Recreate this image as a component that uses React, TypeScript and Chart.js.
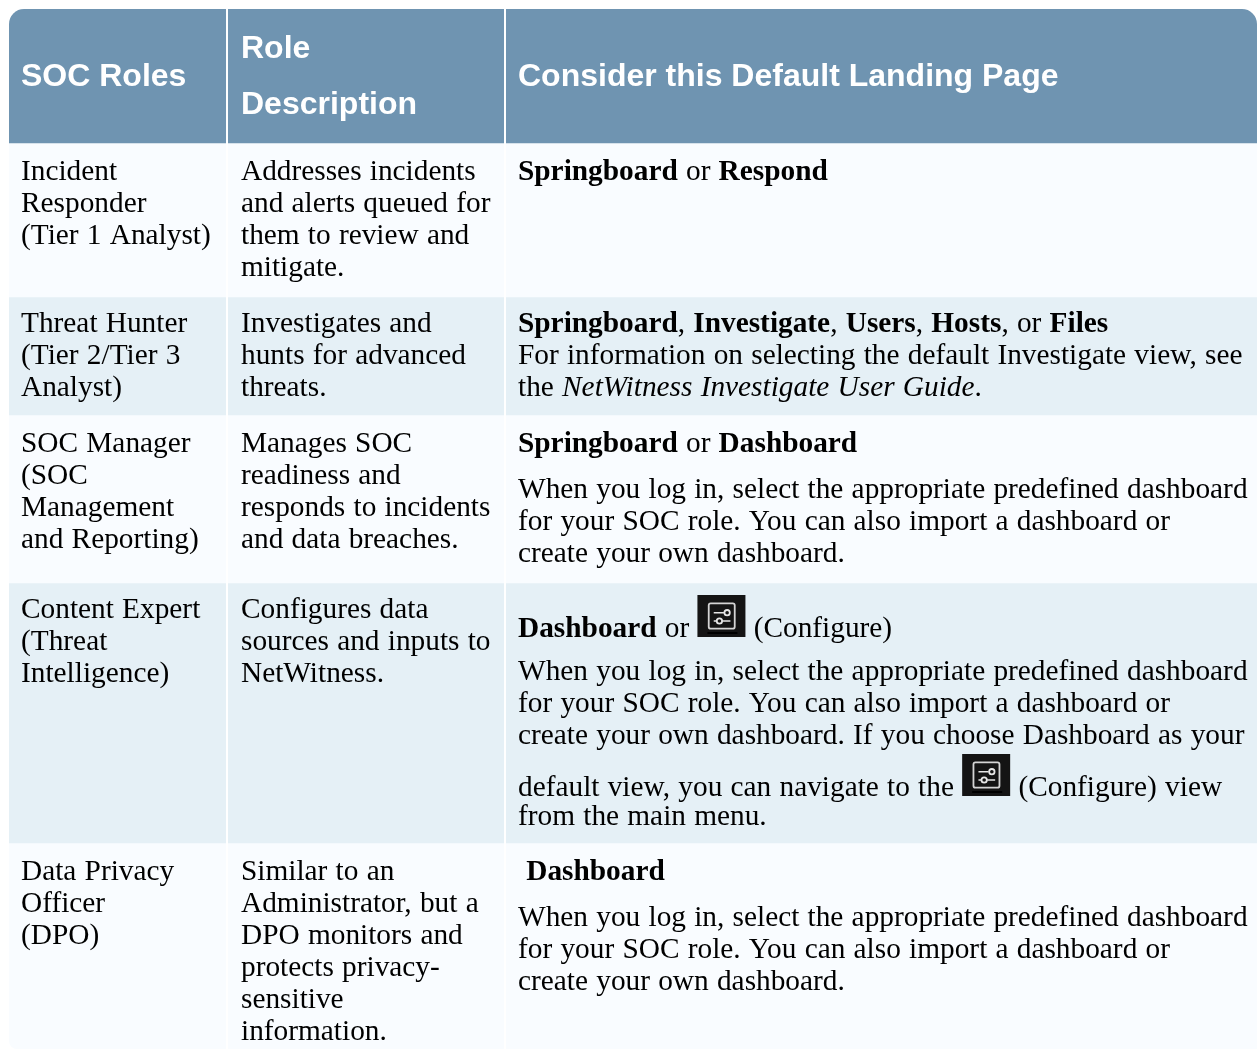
import React, { useEffect, useRef } from "react";
import { Chart, registerables } from "chart.js";

Chart.register(...registerables);

const columnHeaders = [["SOC Roles"], ["Role", "Description"], ["Consider this Default Landing Page"]];
const rowNames = ["Header", "Incident Responder", "Threat Hunter", "SOC Manager", "Content Expert", "Data Privacy Officer"];
const rowHeights = [134, 154, 118, 168, 260, 206];
const columnEdges = [218, 496];

const socRoles = [
  ["Incident", "Responder", "(Tier 1 Analyst)"],
  ["Threat Hunter", "(Tier 2/Tier 3", "Analyst)"],
  ["SOC Manager", "(SOC", "Management", "and Reporting)"],
  ["Content Expert", "(Threat", "Intelligence)"],
  ["Data Privacy", "Officer", "(DPO)"],
];

const roleDescriptions = [
  ["Addresses incidents", "and alerts queued for", "them to review and", "mitigate."],
  ["Investigates and", "hunts for advanced", "threats."],
  ["Manages SOC", "readiness and", "responds to incidents", "and data breaches."],
  ["Configures data", "sources and inputs to", "NetWitness."],
  ["Similar to an", "Administrator, but a", "DPO monitors and", "protects privacy-", "sensitive", "information."],
];

// Markup: **bold**, __italic__, [icon]
const landingPages = [
  ["**Springboard** or **Respond**"],
  [
    "**Springboard**, **Investigate**, **Users**, **Hosts**, or **Files**",
    "For information on selecting the default Investigate view, see",
    "the __NetWitness Investigate User Guide__.",
  ],
  [
    "**Springboard** or **Dashboard**",
    "When you log in, select the appropriate predefined dashboard",
    "for your SOC role. You can also import a dashboard or",
    "create your own dashboard.",
  ],
  [
    "**Dashboard** or [icon] (Configure)",
    "When you log in, select the appropriate predefined dashboard",
    "for your SOC role. You can also import a dashboard or",
    "create your own dashboard. If you choose Dashboard as your",
    "default view, you can navigate to the [icon] (Configure) view",
    "from the main menu.",
  ],
  [
    " **Dashboard**",
    "When you log in, select the appropriate predefined dashboard",
    "for your SOC role. You can also import a dashboard or",
    "create your own dashboard.",
  ],
];

const landingOffsets = [
  [37],
  [35, 67, 99],
  [37, 83, 115, 147],
  [54, 97, 129, 161, 213, 242],
  [37, 83, 115, 147],
];
const firstOffsets = [37, 35, 37, 35, 37];

const HEADER_COLOR = "#6f94b1";
const ROW_COLORS = ["#f9fcff", "#e5f0f6"];
const BODY_SIZE = 29.33;
const HEAD_SIZE = 32;
const WORD_GAP = "0.9px";
const SERIF = '"Liberation Serif"';
const SANS = '"Liberation Sans"';
const COLUMN_TEXT_X = [12, 232, 509];
const HEADER_BASELINES = [[77], [49, 105], [77]];
const LINE_STEP = 32;
const ICON_W = 48;
const ICON_H = 42;

type Run = { kind: "text" | "bold" | "italic" | "icon"; text: string };

function parseLine(line: string): Run[] {
  const runs: Run[] = [];
  const re = /\*\*(.+?)\*\*|__(.+?)__|\[icon\]/g;
  let last = 0;
  let m: RegExpExecArray | null;
  while ((m = re.exec(line))) {
    if (m.index > last) runs.push({ kind: "text", text: line.slice(last, m.index) });
    if (m[1]) runs.push({ kind: "bold", text: m[1] });
    else if (m[2]) runs.push({ kind: "italic", text: m[2] });
    else runs.push({ kind: "icon", text: "" });
    last = m.index + m[0].length;
  }
  if (last < line.length) runs.push({ kind: "text", text: line.slice(last) });
  return runs;
}

function drawIcon(ctx: CanvasRenderingContext2D, x: number, baseline: number) {
  const top = baseline - ICON_H;
  ctx.save();
  ctx.fillStyle = "#141414";
  ctx.fillRect(x, top, ICON_W, ICON_H);
  ctx.fillStyle = "#000000";
  ctx.fillRect(x + 10, top + 37, 30, 2);
  ctx.strokeStyle = "#d4d4d4";
  ctx.lineWidth = 1.8;
  ctx.beginPath();
  ctx.roundRect(x + 11.3, top + 8.3, 26, 25.4, 2);
  ctx.stroke();
  ctx.strokeStyle = "#e6e6e6";
  ctx.lineWidth = 1.6;
  ctx.beginPath();
  ctx.moveTo(x + 16.3, top + 17.7);
  ctx.lineTo(x + 26.5, top + 17.7);
  ctx.moveTo(x + 16.3, top + 26);
  ctx.lineTo(x + 19, top + 26);
  ctx.moveTo(x + 25, top + 26);
  ctx.lineTo(x + 33, top + 26);
  ctx.stroke();
  ctx.lineWidth = 1.8;
  ctx.beginPath();
  ctx.arc(x + 29.7, top + 17.7, 2.7, 0, Math.PI * 2);
  ctx.stroke();
  ctx.beginPath();
  ctx.arc(x + 22, top + 26, 2.7, 0, Math.PI * 2);
  ctx.stroke();
  ctx.restore();
}

function drawRuns(ctx: CanvasRenderingContext2D, line: string, x: number, y: number) {
  let cursor = x;
  for (const run of parseLine(line)) {
    if (run.kind === "icon") {
      drawIcon(ctx, cursor, y);
      cursor += ICON_W;
      continue;
    }
    const style = run.kind === "bold" ? "bold " : run.kind === "italic" ? "italic " : "";
    ctx.font = `${style}${BODY_SIZE}px ${SERIF}`;
    ctx.fillText(run.text, cursor, y);
    cursor += ctx.measureText(run.text).width;
  }
}

const clipPlugin = {
  id: "tableClip",
  beforeDatasetsDraw(chart: any) {
    const { ctx, chartArea: a } = chart;
    ctx.save();
    ctx.beginPath();
    ctx.roundRect(a.left, a.top, a.right - a.left + 20, a.bottom - a.top, [15, 15, 8, 8]);
    ctx.clip();
  },
  afterDatasetsDraw(chart: any) {
    chart.ctx.restore();
  },
};

const corner = {
  id: "rightCorner",
  afterDatasetsDraw(chart: any) {
    // Rounds the top-right corner at the canvas edge.
    const { ctx, chartArea: a } = chart;
    const r = 15;
    ctx.save();
    ctx.fillStyle = "#ffffff";
    ctx.beginPath();
    ctx.moveTo(a.right, a.top);
    ctx.lineTo(a.right - r, a.top);
    ctx.arcTo(a.right, a.top, a.right, a.top + r, r);
    ctx.closePath();
    ctx.fill();
    ctx.restore();
  },
};

const textPlugin = {
  id: "tableText",
  afterDraw(chart: any) {
    const { ctx } = chart;
    const px = (v: number) => chart.scales.xCol.getPixelForValue(v);
    const py = (v: number) => chart.scales.y.getPixelForValue(v);
    ctx.save();
    ctx.textBaseline = "alphabetic";
    ctx.textAlign = "left";
    ctx.fillStyle = "#ffffff";
    ctx.font = `bold ${HEAD_SIZE}px ${SANS}`;
    columnHeaders.forEach((lines, c) =>
      lines.forEach((t, i) => ctx.fillText(t, px(COLUMN_TEXT_X[c]), py(HEADER_BASELINES[c][i])))
    );
    ctx.fillStyle = "#000000";
    ctx.wordSpacing = WORD_GAP;
    let top = rowHeights[0];
    socRoles.forEach((_, r) => {
      [socRoles[r], roleDescriptions[r]].forEach((lines, c) => {
        ctx.font = `${BODY_SIZE}px ${SERIF}`;
        lines.forEach((t, i) =>
          ctx.fillText(t, px(COLUMN_TEXT_X[c]), py(top + firstOffsets[r] + i * LINE_STEP))
        );
      });
      landingPages[r].forEach((line, i) =>
        drawRuns(ctx, line, px(COLUMN_TEXT_X[2]), py(top + landingOffsets[r][i]))
      );
      top += rowHeights[r + 1];
    });
    ctx.wordSpacing = "0px";
    ctx.restore();
  },
};

export default function App() {
  const ref = useRef<HTMLCanvasElement>(null);
  useEffect(() => {
    const total = rowHeights.reduce((s, v) => s + v, 0);
    const chart = new Chart(ref.current!, {
      type: "bar",
      data: {
        labels: ["SOC roles table"],
        datasets: rowHeights.map((h, i) => ({
          label: rowNames[i],
          data: [h],
          backgroundColor: i === 0 ? HEADER_COLOR : ROW_COLORS[(i + 1) % 2],
          borderWidth: 0,
          barPercentage: 1,
          categoryPercentage: 1,
          xAxisID: "x",
          yAxisID: "y",
          stack: "table",
        })),
      },
      options: {
        animation: false,
        responsive: false,
        devicePixelRatio: 1,
        layout: { padding: { left: 9, top: 9, right: 0, bottom: 0 } },
        plugins: { legend: { display: false }, tooltip: { enabled: false }, title: { display: false } },
        scales: {
          x: { type: "category", stacked: true, display: false, offset: true },
          xCol: {
            type: "linear",
            axis: "x",
            position: "top",
            min: 0,
            max: 1248,
            offset: false,
            afterBuildTicks: (scale: any) => {
              scale.ticks = columnEdges.map((value) => ({ value }));
            },
            ticks: { display: false },
            border: { display: false },
            grid: { color: "#ffffff", lineWidth: 2, drawTicks: false, z: 1, offset: false },
          },
          y: { type: "linear", stacked: true, reverse: true, min: 0, max: total, display: false },
        },
      } as any,
      plugins: [clipPlugin, corner, textPlugin],
    });
    return () => chart.destroy();
  }, []);
  return (
    <canvas
      ref={ref}
      width={1257}
      height={1049}
      style={{ position: "absolute", left: 0, top: 0, width: 1257, height: 1049, display: "block" }}
    />
  );
}
